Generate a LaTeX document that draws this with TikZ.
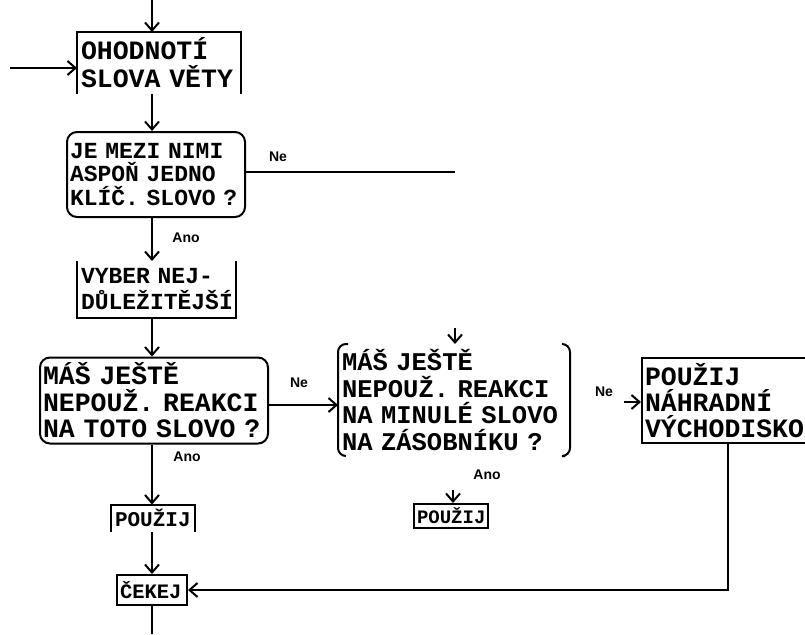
\documentclass[tikz,border=0pt]{standalone}
\usepackage{fontspec}
\setmainfont{Liberation Mono}
\newfontfamily\lblfont{Liberation Sans}
\usetikzlibrary{arrows.meta}
\begin{document}
\begin{tikzpicture}[x=1pt,y=-1pt,
  line width=2pt,
  arr/.style={-{Straight Barb[length=8pt,width=14pt]}},
  txt/.style 2 args={align=left, inner xsep=3pt, inner ysep=0pt,
     font=\bfseries\fontsize{#1}{#2}\selectfont},
  rbox/.style={draw, rounded corners=10pt},
  sbox/.style={draw},
  lab/.style={font=\lblfont\bfseries\fontsize{14}{15}\selectfont, inner sep=0pt}
]
\fill[white] (0,0) rectangle (805,634);
\clip (0,0) rectangle (805,634);

% nodes
\node[txt={26.5}{28}, text width=156pt, minimum height=60pt] (box1) at (159,63) {OHODNOTÍ\\SLOVA VĚTY};
\node[rbox, txt={23}{23.5}, text width=172pt, minimum height=85pt] (dec1) at (156,174.5) {JE MEZI NIMI\\ASPOŇ JEDNO\\KLÍČ. SLOVO ?};
\node[txt={23}{26}, text width=151pt, minimum height=55pt] (vyb) at (156.5,289.5) {VYBER NEJ-\\DŮLEŽITĚJŠÍ};
\node[rbox, txt={26.5}{26.5}, text width=222pt, minimum height=86pt] (dec2) at (154,400.5) {MÁŠ JEŠTĚ\\NEPOUŽ. REAKCI\\NA TOTO SLOVO ?};
\node[txt={25.5}{26.7}, text width=224pt, minimum height=110pt] (dec3) at (454,400) {MÁŠ JEŠTĚ\\NEPOUŽ. REAKCI\\NA MINULÉ SLOVO\\NA ZÁSOBNÍKU ?};
\node[sbox, txt={26.5}{26}, text width=172pt, minimum height=85pt] (box4) at (731,400.5) {POUŽIJ\\NÁHRADNÍ\\VÝCHODISKO};
\node[txt={21}{22}, text width=76pt, minimum height=25pt] (pou1) at (153,518) {POUŽIJ};
\node[sbox, txt={19}{20}, text width=68pt, minimum height=24pt] (pou2) at (451,516) {POUŽIJ};
\node[sbox, txt={20.5}{22}, text width=64pt, minimum height=30pt] (cek) at (152,590) {ČEKEJ};

% partial borders as in the reference
\draw (box1.south west) -- (box1.north west) -- (box1.north east) -- (box1.south east);
\draw (vyb.north west) -- (vyb.south west) -- (vyb.south east) -- (vyb.north east);
\draw (pou1.south west) -- (pou1.north west) -- (pou1.north east) -- (pou1.south east);
\draw[rounded corners=8pt] ([xshift=10pt]dec3.north west) -- (dec3.north west) -- (dec3.south west) -- ([xshift=8pt]dec3.south west);
\draw[rounded corners=8pt] ([xshift=-8pt]dec3.north east) -- (dec3.north east) -- (dec3.south east) -- ([xshift=-5pt]dec3.south east);

% labels
\node[lab] (ne1) at (278,157) {Ne};
\node[lab] (ano1) at (186,238) {Ano};
\node[lab] (ne2) at (299,383) {Ne};
\node[lab] (ano2) at (187,457) {Ano};
\node[lab] (ne3) at (604,392) {Ne};
\node[lab] (ano3) at (487,475) {Ano};

% coordinates
\coordinate (top) at (152,0);
\coordinate (in1) at (10,68);
\coordinate (end1) at (455,172);
\coordinate (st3) at (455,328);
\coordinate (st4) at (624,402);
\coordinate (st5) at (453,490);
\coordinate (down4) at (728,590);
\coordinate (bot) at (152,634);

% connectors
\draw[arr] (top) -- (top |- box1.north);
\draw[arr] (in1) -- (in1 -| box1.west);
\draw[arr] (box1.south -| top) -- (dec1.north -| top);
\draw (dec1.east |- end1) -- (end1);
\draw[arr] (dec1.south -| top) -- (vyb.north -| top);
\draw[arr] (st3) -- (st3 |- dec3.north);
\draw[arr] (vyb.south -| top) -- (dec2.north -| top);
\draw[arr] (dec2.east |- 0,405) -- (dec3.west |- 0,405);
\draw[arr] (st4) -- (st4 -| box4.west);
\draw[arr] (dec2.south -| top) -- (pou1.north -| top);
\draw[arr] (st5) -- (st5 |- pou2.north);
\draw[arr] (pou1.south -| top) -- (cek.north -| top);
\draw[arr] (box4.south -| down4) -- (down4) -- (cek.east |- down4);
\draw (cek.south -| top) -- (bot);
\end{tikzpicture}
\end{document}
